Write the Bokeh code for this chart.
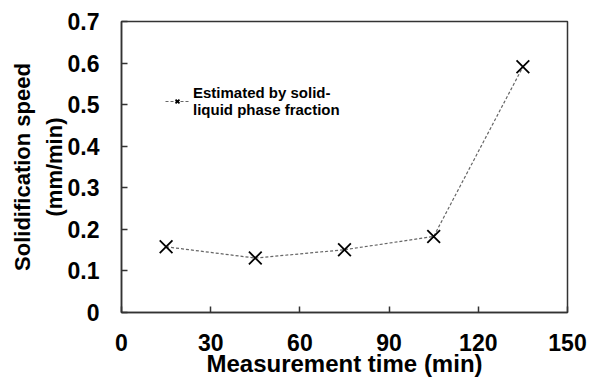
from bokeh.plotting import figure
from bokeh.models import Range1d, Legend, LegendItem, FixedTicker
from bokeh.embed import file_html
from bokeh.resources import INLINE

times = [15, 45, 75, 105, 135]
speeds = [0.158, 0.131, 0.151, 0.183, 0.591]
x_ticks = [0, 30, 60, 90, 120, 150]
y_ticks = [0, 0.1, 0.2, 0.3, 0.4, 0.5, 0.6, 0.7]
series_label = "Estimated by solid-\nliquid phase fraction"

FONT = "Liberation Sans"

p = figure(width=590, height=379, output_backend="svg", toolbar_location=None,
           x_range=Range1d(0, 150), y_range=Range1d(0, 0.7),
           min_border_left=121, min_border_right=23, min_border_top=21, min_border_bottom=67)

p.xgrid.visible = False
p.ygrid.visible = False
p.outline_line_color = "#333333"
p.outline_line_width = 1.5
p.background_fill_color = "white"
p.border_fill_color = "white"

for ax in (p.xaxis, p.yaxis):
    ax.major_tick_in = 6
    ax.major_tick_out = 0
    ax.minor_tick_in = 0
    ax.minor_tick_out = 0
    ax.axis_line_color = "#333333"
    ax.axis_line_width = 1.5
    ax.major_tick_line_color = "#333333"
    ax.major_tick_line_width = 1.5
    ax.major_label_text_font = FONT
    ax.major_label_text_font_style = "bold"
    ax.major_label_text_font_size = "23px"
    ax.major_label_text_color = "black"
    ax.axis_label_text_font = FONT
    ax.axis_label_text_font_style = "bold"
    ax.axis_label_text_color = "black"

p.xaxis.axis_label_text_font_size = "24px"
p.yaxis.axis_label_text_font_size = "22px"
p.yaxis.axis_label_text_line_height = 1.25

p.xaxis.ticker = FixedTicker(ticks=x_ticks)
p.yaxis.ticker = FixedTicker(ticks=y_ticks)
p.xaxis.major_label_standoff = 21
p.yaxis.major_label_standoff = 22
p.xaxis.axis_label = "Measurement time (min)"
p.yaxis.axis_label = "Solidification speed\n(mm/min)"
p.xaxis.axis_label_standoff = -4
p.yaxis.axis_label_standoff = -2

ln = p.line(times, speeds, line_color="#666666", line_dash="3 2", line_width=1.2)
mk = p.scatter(times, speeds, marker="x", size=18, line_color="black", line_width=1.8)

legend = Legend(items=[LegendItem(label=series_label, renderers=[ln, mk])],
                location=(44, 194), border_line_color=None, background_fill_alpha=0,
                label_text_font=FONT, label_text_font_style="bold",
                label_text_font_size="15px", label_text_color="black",
                label_text_line_height=1.1,
                glyph_width=24, glyph_height=14, padding=2, spacing=0, label_standoff=4)
p.add_layout(legend)

open("out.html", "w").write(file_html(p, INLINE))
